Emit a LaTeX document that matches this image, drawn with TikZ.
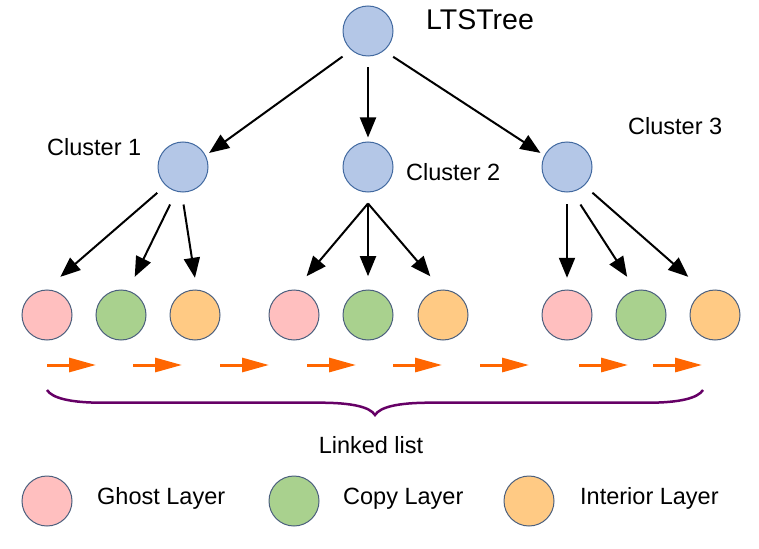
\documentclass[tikz,border=0pt]{standalone}
\usepackage{fontspec}
\setmainfont{Liberation Sans}
\usetikzlibrary{shapes,arrows.meta,positioning,calc}
\definecolor{treeblue}{RGB}{180,199,231}
\definecolor{treeline}{RGB}{65,105,160}
\definecolor{leafline}{RGB}{75,95,125}
\definecolor{ghost}{RGB}{255,191,191}
\definecolor{copy}{RGB}{169,209,142}
\definecolor{interior}{RGB}{255,202,132}
\definecolor{linkorange}{RGB}{255,102,0}
\definecolor{bracepurple}{RGB}{102,0,102}

\begin{document}
\begin{tikzpicture}[
    x=1pt, y=-1pt,
    tree/.style={circle, draw=treeline, fill=treeblue, line width=1pt, minimum size=50pt, inner sep=0pt},
    leaf/.style={circle, draw=leafline, line width=1pt, minimum size=50pt, inner sep=0pt},
    txt/.style={font=\fontsize{23.5}{28}\selectfont, inner sep=0pt, anchor=base west},
    arr/.style={-{Triangle[length=20pt,width=16pt]}, line width=2pt},
    linkarrow/.style={-{Triangle[length=27pt,width=14pt]}, line width=3pt, linkorange}
]
\useasboundingbox (0,0) rectangle (759,548);

% Tree
\node[tree] (root) at (368,31) {};
\node[tree] (c1) at (183,167) {};
\node[tree] (c2) at (368,167) {};
\node[tree] (c3) at (567,167) {};
\node[txt, font=\fontsize{28.5}{34}\selectfont] (title) at (426,30) {LTSTree};
\node[txt] (lab1) at (47,156) {Cluster 1};
\node[txt] (lab2) at (406,180) {Cluster 2};
\node[txt] (lab3) at (628,135) {Cluster 3};

% Layers
\foreach \x/\c [count=\i] in {47/ghost,121/copy,195/interior,294/ghost,368/copy,443/interior,567/ghost,641/copy,715/interior}
    \node[leaf, fill=\c] (l\i) at (\x,315) {};

% Root to clusters
\draw[arr, shorten <=10.8pt, shorten >=4.2pt] (root.229) -- (c1.27);
\draw[arr, shorten <=11pt, shorten >=4pt] (root) -- (c2);
\draw[arr, shorten <=10.9pt, shorten >=4.6pt] (root.309) -- (c3.153);

% Clusters to layers
\draw[arr, shorten <=11pt, shorten >=19.4pt] (c1.227) -- (l1.93);
\draw[arr, shorten <=14.3pt, shorten >=15.2pt] (c1.255) -- (l2.74);
\draw[arr, shorten <=12.2pt, shorten >=11.9pt] (c1.267) -- (l3.86);
\coordinate (c2out) at ($(c2.south)+(0,11)$);
\draw[arr, shorten >=17.4pt] (c2out) -- (l4.87);
\draw[arr, shorten >=13.3pt] (c2out) -- (l5);
\draw[arr, shorten >=17.4pt] (c2out) -- (l6.93);
\draw[arr, shorten <=11.7pt, shorten >=11.7pt] (c3) -- (l7);
\draw[arr, shorten <=15pt, shorten >=15.8pt] (c3.282) -- (l8.102);
\draw[arr, shorten <=10.7pt, shorten >=22.3pt] (c3.313) -- (l9.113);

% Linked list
\foreach \x in {47,133,220,307,393,480,579,653}
    \draw[linkarrow] (\x,365) -- ++(49,0);
\coordinate (bl) at (47,390);
\coordinate (br) at (703,390);
\draw[bracepurple, line width=2.5pt] (bl) .. controls +(5,8) and +(-32,0) .. ++(55,12.7) -- ++(218,0)
    .. controls +(32,0) and +(-5,-8) .. ++(55,12.3) .. controls +(5,-8) and +(-32,0) .. ++(55,-12.3)
    -- ++(218,0) .. controls +(32,0) and +(-5,8) .. (br);
\node[txt, anchor=base] (listlab) at (371,453) {Linked list};

% Legend
\node[leaf, fill=ghost] (kghost) at (47,501) {};
\node[txt] (tghost) at (97,504) {Ghost Layer};
\node[leaf, fill=copy] (kcopy) at (294,501) {};
\node[txt] (tcopy) at (343,504) {Copy Layer};
\node[leaf, fill=interior] (kint) at (529,501) {};
\node[txt] (tint) at (580,504) {Interior Layer};

\end{tikzpicture}
\end{document}
